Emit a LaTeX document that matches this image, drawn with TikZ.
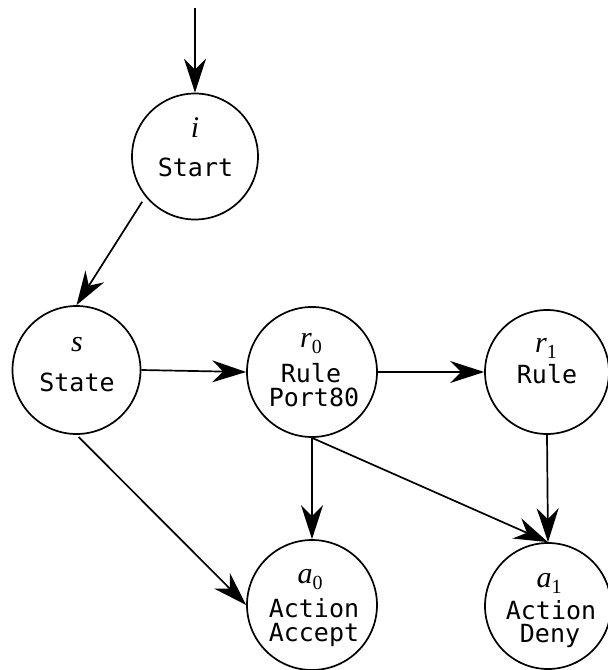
\documentclass[tikz,border=0pt]{standalone}
\usepackage{fontspec}
\setmonofont{DejaVu Sans Mono}
\newfontfamily\lblfont{Liberation Serif}
\usetikzlibrary{arrows.meta}
\newcommand{\mysub}[1]{\raisebox{-6pt}{\fontsize{20}{20}\selectfont\upshape #1}}
\begin{document}
\begin{tikzpicture}[x=1pt,y=1pt,
  state/.style={circle,draw,line width=1.7pt,inner sep=0pt},
  mono/.style={anchor=base,inner sep=0pt,font=\fontsize{25}{25}\selectfont\ttfamily},
  mth/.style={anchor=base,inner sep=0pt,font=\lblfont\fontsize{30}{30}\selectfont\itshape},
  arr/.style={line width=1.7pt,-{Stealth[length=34pt,width=22pt,inset=11pt]}}
]
\useasboundingbox (0,0) rectangle (608,-670);
% circles
\node[state,minimum size=126pt] (start) at (195,-156.5) {};
\node[state,minimum size=128pt] (state) at (76.5,-370) {};
\node[state,minimum size=130pt] (r0) at (312,-372) {};
\node[state,minimum size=124pt] (r1) at (547,-372) {};
\node[state,minimum size=130pt] (a0) at (312,-605) {};
\node[state,minimum size=126pt] (a1) at (548,-606) {};
% labels
\node[mth] (ti) at (195,-137) {i};
\node[mono] (tstart) at (195.5,-176) {Start};
\node[mth] (ts) at (77,-351) {s};
\node[mono] (tstate) at (77,-391) {State};
\node[mth] (tr0) at (311,-347) {r\mysub{0}};
\node[mono] (tr0a) at (311,-382) {Rule};
\node[mono] (tr0b) at (314,-406) {Port80};
\node[mth] (tr1) at (546,-352) {r\mysub{1}};
\node[mono] (tr1a) at (547,-383) {Rule};
\node[mth] (ta0) at (310,-583) {a\mysub{0}};
\node[mono] (ta0a) at (314,-617) {Action};
\node[mono] (ta0b) at (314,-641) {Accept};
\node[mth] (ta1) at (549,-587) {a\mysub{1}};
\node[mono] (ta1a) at (551,-619) {Action};
\node[mono] (ta1b) at (550,-642) {Deny};
% connectors
\coordinate (in) at (195,-8);
\draw[arr] (in) -- (start.north);
\draw[arr,shorten <=6pt] (start.219) -- (state.north);
\draw[arr] (state.east) -- (r0.west);
\draw[arr] (r0.east) -- (r1.west);
\draw[arr,shorten <=3pt] (state.south) -- (a0.west);
\draw[arr] (r0.south) -- (a0.north);
\draw[arr] (r0.south) -- (a1.north);
\draw[arr] (r1.south) -- (a1.north);
\end{tikzpicture}
\end{document}
